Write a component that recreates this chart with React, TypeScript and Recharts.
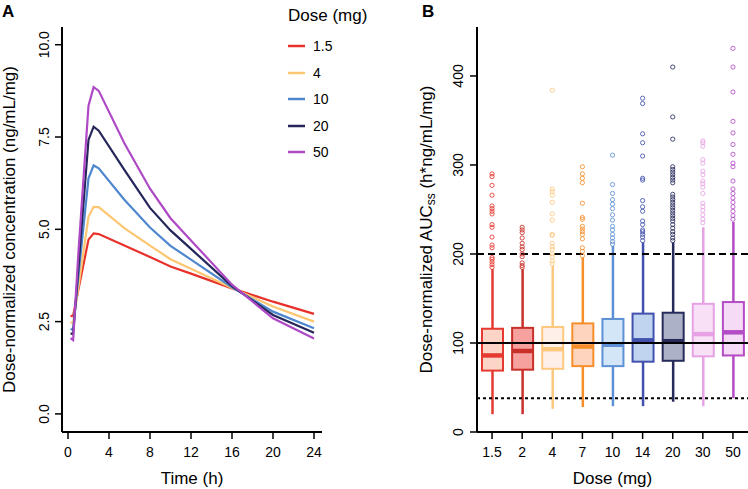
import React from "react";
import {
  LineChart,
  Line,
  XAxis,
  YAxis,
  Legend,
  ComposedChart,
  Bar,
  Scatter,
  ReferenceLine,
} from "recharts";

const FONT = "'Liberation Sans', Arial, Helvetica, sans-serif";

// Panel A: dose-normalized concentration over time
const times = [0.25, 0.5, 1, 2, 2.5, 3, 5.5, 8, 10, 12, 16, 20, 24];
const conc1_5 = [2.65, 2.66, 3.35, 4.72, 4.89, 4.87, 4.56, 4.25, 3.99, 3.8, 3.4, 3.04, 2.71];
const conc4 = [2.48, 2.47, 3.4, 5.34, 5.61, 5.6, 5.03, 4.56, 4.19, 3.93, 3.41, 2.91, 2.5];
const conc10 = [2.3, 2.28, 3.7, 6.38, 6.73, 6.65, 5.8, 5.05, 4.55, 4.18, 3.43, 2.77, 2.32];
const conc20 = [2.18, 2.16, 3.9, 7.42, 7.78, 7.67, 6.61, 5.58, 4.97, 4.47, 3.46, 2.68, 2.2];
const conc50 = [2.05, 2.0, 4.3, 8.35, 8.85, 8.75, 7.33, 6.1, 5.3, 4.7, 3.5, 2.59, 2.04];
const lineDoses = ["1.5", "4", "10", "20", "50"];
const lineColors = ["#E8312B", "#FDC672", "#4F87CF", "#25265A", "#AE49C6"];
const timeTicks = [0, 4, 8, 12, 16, 20, 24];
const concTicks = [0, 2.5, 5, 7.5, 10];

// Panel B: dose-normalized AUCss box plots
const doses = ["1.5", "2", "4", "7", "10", "14", "20", "30", "50"];
const whiskerLow = [20, 20, 26, 28, 29, 29, 34, 29, 38];
const q1 = [69, 70, 71, 74, 74, 79, 80, 85, 86];
const median = [86, 91, 93, 96, 98, 103, 102, 110, 112];
const q3 = [116, 117, 118, 122, 127, 133, 134, 144, 146];
const whiskerHigh = [183, 183, 187, 196, 209, 213, 213, 230, 236];
const outliers1_5 = [290, 287, 277, 266, 254, 251, 248, 245, 233, 230, 219, 210, 207, 196, 194, 191, 188, 185];
const outliers2 = [230, 227, 224, 218, 212, 208, 205, 200, 197, 190, 187, 185];
const outliers4 = [384, 273, 270, 266, 258, 245, 238, 222, 221, 212, 208, 205, 200, 197, 192, 189];
const outliers7 = [298, 290, 285, 280, 257, 241, 239, 231, 228, 225, 222, 217, 207, 203, 198];
const outliers10 = [311, 278, 268, 261, 256, 251, 244, 238, 231, 227, 222, 218, 214, 211];
const outliers14 = [375, 369, 335, 325, 310, 285, 283, 260, 253, 248, 237, 233, 227, 225, 222, 219, 215];
const outliers20 = [410, 354, 329, 298, 295, 292, 289, 286, 283, 280, 267, 264, 261, 258, 255, 252, 249, 246, 243, 240, 237, 233, 229, 225, 222, 218, 215];
const outliers30 = [327, 325, 321, 306, 302, 293, 289, 282, 279, 275, 268, 257, 253, 249, 244, 239, 235];
const outliers50 = [431, 410, 382, 349, 336, 323, 312, 302, 298, 282, 273, 268, 263, 258, 253, 248, 243, 239];
const boxStroke = ["#E53A32", "#C9302A", "#FDC77E", "#F68E2C", "#5D90D4", "#4251AE", "#272B5C", "#E6A2E4", "#B44CC6"];
const boxFill = ["#FDD5C6", "#F6A19E", "#FEF0E9", "#FDD5BE", "#D3E6F7", "#C0D4F0", "#ADB1C7", "#F8E1F6", "#F5DBF6"];
const aucTicks = [0, 100, 200, 300, 400];

const concSeries = [conc1_5, conc4, conc10, conc20, conc50];
const pkData = times.map((t, i) => {
  const row: Record<string, number> = { t };
  lineDoses.forEach((d, k) => (row["d" + d] = concSeries[k][i]));
  return row;
});

const boxData = doses.map((dose, i) => ({
  dose,
  range: [whiskerLow[i], whiskerHigh[i]],
  q1: q1[i],
  med: median[i],
  q3: q3[i],
}));

const outlierSets = [outliers1_5, outliers2, outliers4, outliers7, outliers10, outliers14, outliers20, outliers30, outliers50];
const outlierData = doses.map((dose, i) => outlierSets[i].map((v) => ({ dose, v })));

const RotTick = (props: any) => {
  const { x, y, payload, digits } = props;
  return (
    <text
      x={x}
      y={y}
      transform={`rotate(-90 ${x} ${y})`}
      textAnchor="middle"
      dominantBaseline="central"
      fontSize={14}
      fontFamily={FONT}
      fill="#000"
    >
      {Number(payload.value).toFixed(digits)}
    </text>
  );
};

const XTitle = (props: any) => {
  const { viewBox, text } = props;
  return (
    <text
      x={viewBox.x + viewBox.width / 2}
      y={viewBox.y + 46}
      textAnchor="middle"
      dominantBaseline="central"
      fontSize={17}
      fontFamily={FONT}
      fill="#000"
    >
      {text}
    </text>
  );
};

const YTitle = (props: any) => {
  const { viewBox, dx, children } = props;
  const x = viewBox.x + dx;
  const y = viewBox.y + viewBox.height / 2;
  return (
    <text
      x={x}
      y={y}
      transform={`rotate(-90 ${x} ${y})`}
      textAnchor="middle"
      dominantBaseline="central"
      fontSize={17}
      fontFamily={FONT}
      fill="#000"
    >
      {children}
    </text>
  );
};

// keep legend entries in dose order (recharts sorts them by name)
const DoseLegend = ({ payload }: any) => {
  const items = [...(payload || [])].sort(
    (a: any, b: any) => lineDoses.indexOf(a.value) - lineDoses.indexOf(b.value)
  );
  return (
    <div style={{ position: "relative", width: 90, height: 170, fontFamily: FONT, color: "#000" }}>
      <div style={{ position: "absolute", left: 0, top: 6, fontSize: 17, lineHeight: "20px", whiteSpace: "nowrap" }}>
        Dose (mg)
      </div>
      {items.map((p: any, i: number) => (
        <div
          key={p.value}
          style={{ position: "absolute", left: 0, top: 36 + i * 26.5, height: 20, display: "flex", alignItems: "center" }}
        >
          <svg width={17} height={4}>
            <line x1={0} x2={17} y1={2} y2={2} stroke={p.color} strokeWidth={2.5} />
          </svg>
          <span style={{ marginLeft: 8, fontSize: 14, lineHeight: "20px" }}>{p.value}</span>
        </div>
      ))}
    </div>
  );
};

const BoxShape = (props: any) => {
  const { x, y, width, height, payload, index } = props;
  const [lo, hi] = payload.range;
  const toY = (v: number) => y + (height * (hi - v)) / (hi - lo);
  const cx = x + width / 2;
  const stroke = boxStroke[index];
  return (
    <g>
      <line x1={cx} x2={cx} y1={toY(hi)} y2={toY(lo)} stroke={stroke} strokeWidth={2.5} />
      <rect
        x={x + 1}
        y={toY(payload.q3)}
        width={width - 2}
        height={toY(payload.q1) - toY(payload.q3)}
        fill={boxFill[index]}
        stroke={stroke}
        strokeWidth={2}
      />
      <line x1={x + 1} x2={x + width - 1} y1={toY(payload.med)} y2={toY(payload.med)} stroke={stroke} strokeWidth={4.5} />
    </g>
  );
};

const axisLine = { stroke: "#000", strokeWidth: 2 };
const tickLine = { stroke: "#000", strokeWidth: 1.5 };
const xTick = { fill: "#000", fontSize: 14, fontFamily: FONT };

export default function App() {
  return (
    <div style={{ position: "absolute", left: 0, top: 0, width: 748, height: 489, background: "#fff", fontFamily: FONT }}>
      <div style={{ position: "absolute", left: 0, top: 0 }}>
        <LineChart width={370} height={489} data={pkData} margin={{ top: 27, right: 48, bottom: 0, left: 0 }}>
          <XAxis
            dataKey="t"
            type="number"
            domain={[-0.585, 24.78]}
            ticks={timeTicks}
            allowDataOverflow
            height={57}
            tickSize={7}
            tickMargin={8}
            axisLine={axisLine}
            tickLine={tickLine}
            tick={xTick}
            label={<XTitle text="Time (h)" />}
          />
          <YAxis
            type="number"
            domain={[-0.49, 10.48]}
            ticks={concTicks}
            allowDataOverflow
            width={62}
            tickSize={7}
            tickMargin={11}
            axisLine={axisLine}
            tickLine={tickLine}
            tick={(p: any) => <RotTick {...p} digits={1} />}
            label={<YTitle dx={9}>Dose-normalized concentration (ng/mL/mg)</YTitle>}
          />
          <Legend
            layout="horizontal"
            verticalAlign="middle"
            align="center"
            content={<DoseLegend />}
            wrapperStyle={{ left: 288, top: 0, width: 90 }}
          />
          {lineDoses.map((d, k) => (
            <Line
              key={d}
              type="linear"
              dataKey={"d" + d}
              name={d}
              stroke={lineColors[k]}
              strokeWidth={2.2}
              dot={false}
              isAnimationActive={false}
            />
          ))}
        </LineChart>
      </div>
      <div style={{ position: "absolute", left: 370, top: 0 }}>
        <ComposedChart width={378} height={489} data={boxData} margin={{ top: 27, right: 0, bottom: 0, left: 0 }}>
          <XAxis
            dataKey="dose"
            type="category"
            allowDuplicatedCategory={false}
            height={57}
            tickSize={7}
            tickMargin={8}
            axisLine={axisLine}
            tickLine={tickLine}
            tick={xTick}
            interval={0}
            label={<XTitle text="Dose (mg)" />}
          />
          <YAxis
            type="number"
            domain={[0, 455]}
            ticks={aucTicks}
            allowDataOverflow
            width={107}
            tickSize={7}
            tickMargin={12}
            axisLine={axisLine}
            tickLine={tickLine}
            tick={(p: any) => <RotTick {...p} digits={0} />}
            label={
              <YTitle dx={56}>
                <tspan>Dose-normalized AUC</tspan>
                <tspan dy={5} fontSize={12}>ss</tspan>
                <tspan dy={-5}> (h*ng/mL/mg)</tspan>
              </YTitle>
            }
          />
          <Bar dataKey="range" barSize={23} shape={<BoxShape />} isAnimationActive={false} />
          {doses.map((d, i) => (
            <Scatter
              key={d}
              data={outlierData[i]}
              dataKey="v"
              isAnimationActive={false}
              shape={(p: any) => (
                <circle cx={p.cx} cy={p.cy} r={2.1} fill="none" stroke={boxStroke[i]} strokeOpacity={0.85} strokeWidth={1} />
              )}
            />
          ))}
          <ReferenceLine y={200} stroke="#000" strokeWidth={2} strokeDasharray="7 4" />
          <ReferenceLine y={100} stroke="#000" strokeWidth={2} />
          <ReferenceLine y={38} stroke="#000" strokeWidth={2} strokeDasharray="3 3" />
        </ComposedChart>
      </div>
      <div style={{ position: "absolute", left: 2, top: 3, fontSize: 17, fontWeight: "bold", lineHeight: "17px" }}>A</div>
      <div style={{ position: "absolute", left: 422, top: 3, fontSize: 17, fontWeight: "bold", lineHeight: "17px" }}>B</div>
    </div>
  );
}
